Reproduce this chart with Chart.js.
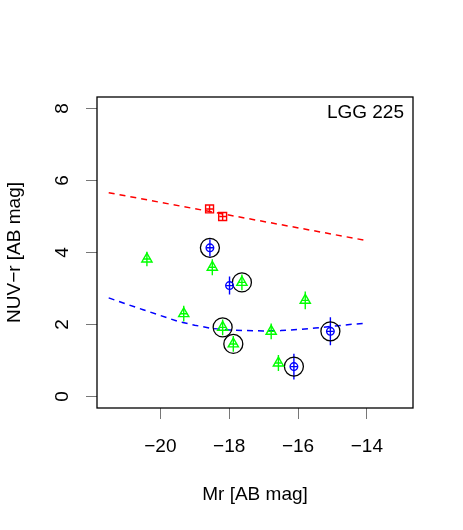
<!DOCTYPE html>
<html>
<head>
<meta charset="utf-8">
<title>LGG 225</title>
<script src="https://cdn.jsdelivr.net/npm/chart.js@4/dist/chart.umd.min.js"></script>
<style>
    body { margin: 0; background: #fff; }
    canvas { display: block; }
</style>
</head>
<body>
<canvas id="chart" width="463" height="530"></canvas>
<script>
// ---- data ----
const groupLabel = 'LGG 225';
const xTicks = [-20, -18, -16, -14];
const yTicks = [0, 2, 4, 6, 8];

// red squares
const redMr = [-18.57, -18.19];
const redColor = [5.21, 5.00];
const redErr = [0.10, 0.10];

// blue circled crosses
const blueMr = [-18.56, -17.99, -15.06, -16.12];
const blueColor = [4.13, 3.08, 1.81, 0.83];
const blueErr = [0.24, 0.25, 0.39, 0.36];

// green triangles
const greenMr = [-20.39, -18.49, -17.63, -15.79, -19.32, -18.19, -16.78, -17.88, -16.57];
const greenColor = [3.82, 3.59, 3.17, 2.67, 2.30, 1.92, 1.81, 1.46, 0.93];
const greenErr = [0.20, 0.22, 0.22, 0.25, 0.22, 0.22, 0.22, 0.22, 0.22];

// black rings around some of the points
const ringMr = [-18.56, -17.63, -18.19, -17.88, -16.12, -15.06];
const ringColor = [4.13, 3.17, 1.92, 1.46, 0.83, 1.81];

const xErr = 0.10;

// red sequence line
const redLineMr = [-21.5, -14.0];
const redLineColor = [5.66, 4.33];

// blue cloud curve
const blueLineMr = [-21.5, -21, -20.5, -20, -19.5, -19, -18.5, -18, -17.5, -17, -16.5, -16, -15.5, -15, -14.5, -14];
const blueLineColor = [2.74, 2.57, 2.41, 2.25, 2.09, 1.98, 1.89, 1.85, 1.83, 1.82, 1.83, 1.86, 1.90, 1.95, 2.00, 2.04];

const FONT = '"Liberation Sans", Arial, Helvetica, sans-serif';

function points(xs, ys) {
    return xs.map((x, i) => ({ x: x, y: ys[i] }));
}

// vertical + horizontal bars, split with null gaps
function errorBars(xs, ys, es) {
    const out = [];
    xs.forEach((x, i) => {
        out.push({ x: x, y: ys[i] - es[i] }, { x: x, y: ys[i] + es[i] }, { x: x, y: null });
        out.push({ x: x - xErr, y: ys[i] }, { x: x + xErr, y: ys[i] }, { x: x, y: null });
    });
    return out;
}

function barSet(xs, ys, es, color) {
    return {
        data: errorBars(xs, ys, es),
        showLine: true,
        spanGaps: false,
        borderColor: color,
        borderWidth: 1.4,
        pointRadius: 0
    };
}

function curveSet(xs, ys, color) {
    return {
        data: points(xs, ys),
        showLine: true,
        borderColor: color,
        borderWidth: 1.5,
        borderDash: [6, 5],
        pointRadius: 0,
        tension: 0
    };
}

// box, rotated y labels and group name
const decorations = {
    id: 'decorations',
    afterDraw(chart) {
        const ctx = chart.ctx;
        const a = chart.chartArea;
        ctx.save();
        ctx.strokeStyle = '#000';
        ctx.lineWidth = 1.3;
        ctx.strokeRect(a.left, a.top, a.right - a.left, a.bottom - a.top);

        ctx.fillStyle = '#000';
        ctx.font = '19px ' + FONT;
        ctx.textBaseline = 'alphabetic';
        const ys = chart.scales.y;
        yTicks.forEach(v => {
            const py = ys.getPixelForValue(v);
            ctx.save();
            ctx.translate(68, py);
            ctx.rotate(-Math.PI / 2);
            ctx.textAlign = 'center';
            ctx.fillText(String(v), 0, 0);
            ctx.restore();
        });

        ctx.textAlign = 'right';
        ctx.fillText(groupLabel, a.right - 9, a.top + 21);
        ctx.restore();
    }
};

const tickGrid = {
    display: true,
    drawOnChartArea: false,
    drawTicks: true,
    tickLength: 11,
    color: '#777',
    lineWidth: 1
};

new Chart(document.getElementById('chart'), {
    type: 'scatter',
    data: {
        datasets: [
            {
                data: points(redMr, redColor),
                pointStyle: 'rect',
                pointRadius: 5.6,
                borderColor: '#ff0000',
                backgroundColor: 'rgba(0,0,0,0)',
                borderWidth: 1.4
            },
            {
                data: points(blueMr, blueColor),
                pointStyle: 'circle',
                pointRadius: 3.8,
                borderColor: '#0000ff',
                backgroundColor: 'rgba(0,0,0,0)',
                borderWidth: 1.4
            },
            {
                data: points(greenMr, greenColor),
                pointStyle: 'triangle',
                pointRadius: 5.9,
                borderColor: '#00ff00',
                backgroundColor: 'rgba(0,0,0,0)',
                borderWidth: 1.4
            },
            {
                data: points(ringMr, ringColor),
                pointStyle: 'circle',
                pointRadius: 9.5,
                borderColor: '#000',
                backgroundColor: 'rgba(0,0,0,0)',
                borderWidth: 1.3
            },
            barSet(redMr, redColor, redErr, '#ff0000'),
            barSet(blueMr, blueColor, blueErr, '#0000ff'),
            barSet(greenMr, greenColor, greenErr, '#00ff00'),
            curveSet(redLineMr, redLineColor, '#ff0000'),
            curveSet(blueLineMr, blueLineColor, '#0000ff')
        ]
    },
    options: {
        responsive: false,
        animation: false,
        layout: { padding: { top: 97, right: 50, left: 0, bottom: 0 } },
        plugins: {
            legend: { display: false },
            tooltip: { enabled: false }
        },
        scales: {
            x: {
                type: 'linear',
                min: -21.84,
                max: -12.66,
                afterBuildTicks: s => { s.ticks = xTicks.map(v => ({ value: v })); },
                afterFit: s => { s.height = 122; },
                grid: tickGrid,
                border: { display: false },
                ticks: {
                    color: '#000',
                    font: { family: FONT, size: 19 },
                    padding: 16,
                    maxRotation: 0,
                    callback: v => String(v).replace('-', '\u2212')
                },
                title: {
                    display: true,
                    text: 'Mr [AB mag]',
                    color: '#000',
                    font: { family: FONT, size: 19 },
                    padding: { top: 0, bottom: 24 }
                }
            },
            y: {
                type: 'linear',
                min: -0.32,
                max: 8.32,
                afterBuildTicks: s => { s.ticks = yTicks.map(v => ({ value: v })); },
                afterFit: s => { s.width = 97; },
                grid: tickGrid,
                border: { display: false },
                ticks: { display: false },
                title: {
                    display: true,
                    text: 'NUV\u2212r [AB mag]',
                    color: '#000',
                    font: { family: FONT, size: 19 },
                    padding: { top: 3, bottom: 0 }
                }
            }
        }
    },
    plugins: [decorations]
});
</script>
</body>
</html>
